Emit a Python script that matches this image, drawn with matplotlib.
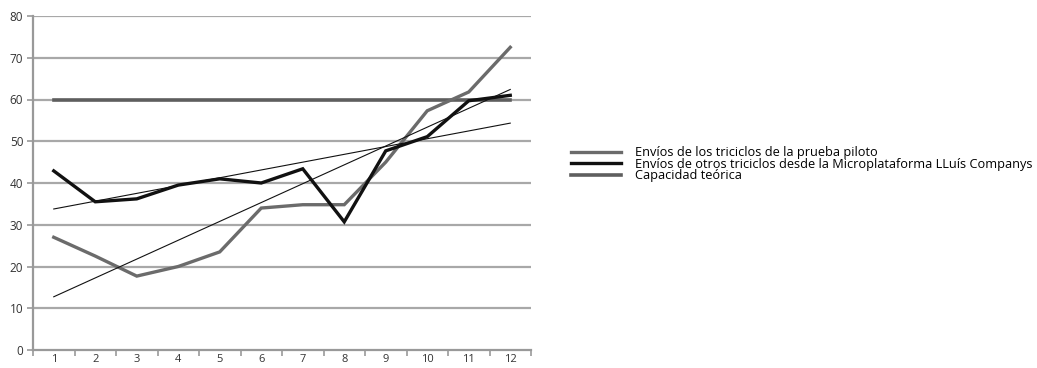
import numpy as np
import matplotlib
matplotlib.use("Agg")
import matplotlib.pyplot as plt

plt.rcParams['font.family'] = ['Open Sans', 'DejaVu Sans']

# Datos semanales
semanas = [1, 2, 3, 4, 5, 6, 7, 8, 9, 10, 11, 12]
piloto = [27.0, 22.5, 17.7, 20.0, 23.5, 34.0, 34.8, 34.8, 45.0, 57.3, 61.8, 72.5]
otros = [42.9, 35.5, 36.2, 39.5, 41.0, 40.0, 43.4, 30.7, 47.7, 51.1, 59.7, 61.0]
capacidad = [60] * 12

etiquetas = ["Envíos de los triciclos de la prueba piloto",
             "Envíos de otros triciclos desde la Microplataforma LLuís Companys",
             "Capacidad teórica"]

x = np.array(semanas)

fig = plt.figure(figsize=(10.37, 3.68), dpi=100)
ax = fig.add_axes([33 / 1037, 1 - 350 / 368, (531 - 33) / 1037, (350 - 16) / 368])

# cuadrícula horizontal
for v in range(10, 90, 10):
    ax.axhline(v, color='#a8a8a8', lw=1.6, zorder=1)

l1, = ax.plot(x, piloto, color='#6b6b6b', lw=2.4, zorder=3, solid_joinstyle='miter')
l2, = ax.plot(x, otros, color='#111111', lw=2.4, zorder=4, solid_joinstyle='miter')
l3, = ax.plot(x, capacidad, color='#5e5e5e', lw=2.6, zorder=2)

# líneas de tendencia lineales
for serie in (piloto, otros):
    m, b = np.polyfit(x, serie, 1)
    ax.plot(x, m * x + b, color='#111111', lw=0.8, zorder=5)

ax.set_xlim(0.5, 12.5)
ax.set_ylim(0, 80)
ax.set_yticks(range(0, 90, 10))
ax.set_xticks(x)
ax.set_xticks(np.arange(0.5, 13, 1), minor=True)
ax.tick_params(axis='x', which='major', length=0, labelsize=8, pad=3, colors='#333333')
ax.tick_params(axis='x', which='minor', length=4, width=1.2, color='#999999')
ax.tick_params(axis='y', length=4, width=1.2, color='#999999', labelsize=8.5, labelcolor='#333333', pad=3)

for s in ('top', 'right'):
    ax.spines[s].set_visible(False)
for s in ('left', 'bottom'):
    ax.spines[s].set_color('#999999')
    ax.spines[s].set_linewidth(1.6)

fig.legend([l1, l2, l3], etiquetas, loc='upper left', bbox_to_anchor=(566 / 1037, 1 - 141 / 368),
           frameon=False, fontsize=9.2, handlelength=3.9, handletextpad=1.1,
           labelspacing=-0.12, borderaxespad=0)

fig.savefig("out.png", dpi=100)
